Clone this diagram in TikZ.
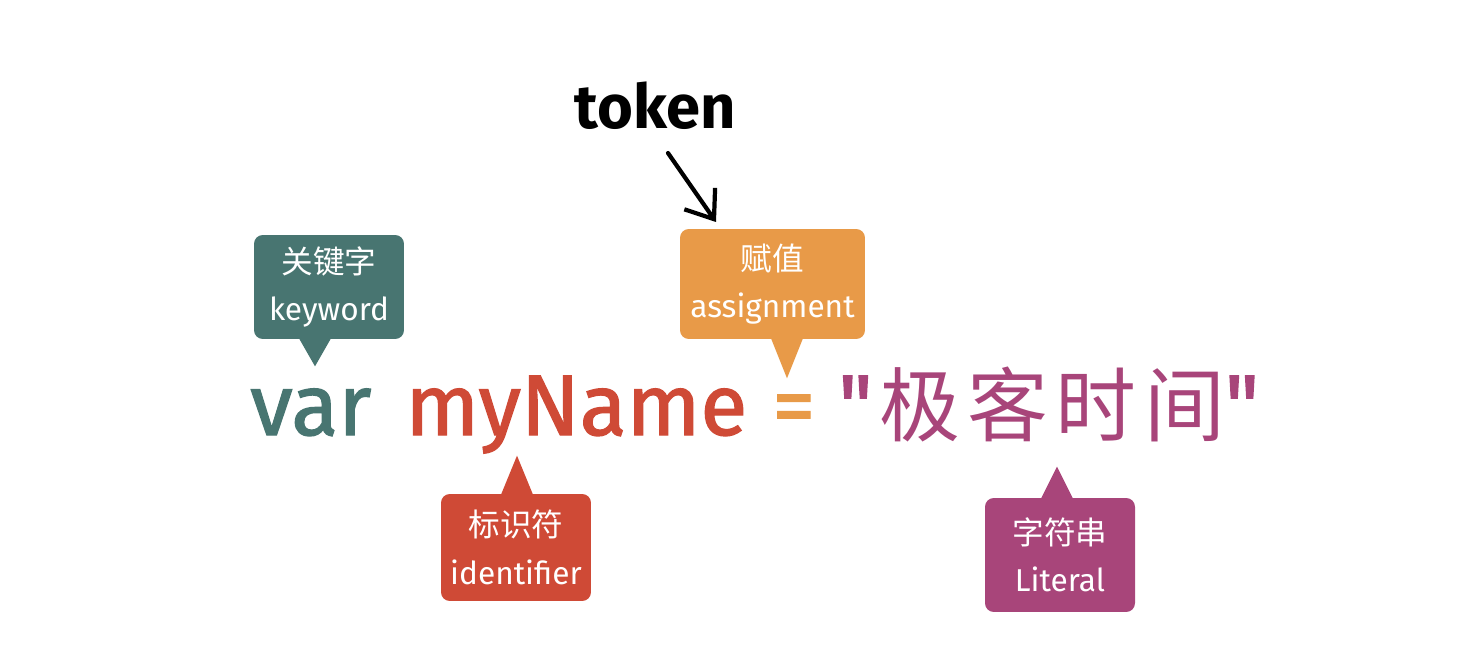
\documentclass[tikz,border=0pt]{standalone}
\usepackage{fontspec}
\setmainfont{Fira Sans}
\newfontfamily\codefont[FakeBold=1.5]{Fira Sans}
\newfontfamily\cjk{Noto Sans CJK SC}
\newfontfamily\cjkwide[LetterSpace=9]{Noto Sans CJK SC}
\usepackage{xcolor}
\usetikzlibrary{arrows.meta}

\definecolor{kwcolor}{HTML}{487571}
\definecolor{idcolor}{HTML}{CF4A36}
\definecolor{ascolor}{HTML}{E89A48}
\definecolor{litcolor}{HTML}{A8457A}

\begin{document}
\begin{tikzpicture}[x=0.02cm, y=-0.02cm,
		tag/.style={fill=#1, rounded corners=5pt, text=white, inner sep=0pt, align=center, font=\fontsize{18}{27}\selectfont},
		word/.style={text=#1, anchor=base west, inner sep=0pt, font=\codefont\fontsize{49}{55}\selectfont},
		tokarrow/.style={draw, line width=2.4pt, line cap=round, -{Straight Barb[length=0.5cm, width=0.75cm, line width=2.4pt]}}]
		\useasboundingbox (0,0) rectangle (1470,672);
		% the source line
		\node[word=kwcolor] (var) at (250,435) {var};
		\node[word=idcolor] (name) at (405,435) {myName};
		\node[word=ascolor] (eq) at (772,435) {=};
		\node[word=litcolor] (str) at (838,435) {\textquotedbl\hspace{4pt}{\cjkwide\fontsize{46}{50}\selectfont 极客时间}\textquotedbl};
		% the callouts
		\node[tag=kwcolor, minimum width=3cm, minimum height=2.08cm] (kw) at (329,287) {{\cjk 关键字}\\keyword};
		\fill[kwcolor] (kw.south) ++(-30,-1) -- ++(16,28) -- ++(16,-28) -- cycle;
		\node[tag=ascolor, minimum width=3.7cm, minimum height=2.2cm] (asg) at (772.5,284) {{\cjk 赋值}\\assignment};
		\fill[ascolor] (asg.south) ++(-1.5,-1) -- ++(16,40) -- ++(16,-40) -- cycle;
		\node[tag=idcolor, minimum width=3cm, minimum height=2.14cm] (idf) at (516,547.5) {{\cjk 标识符}\\identifier};
		\fill[idcolor] (idf.north) ++(-15,1) -- ++(16,-39) -- ++(16,39) -- cycle;
		\node[tag=litcolor, minimum width=3cm, minimum height=2.28cm] (lit) at (1060,555) {{\cjk 字符串}\\Literal};
		\fill[litcolor] (lit.north) ++(-19,1) -- ++(16,-32) -- ++(16,32) -- cycle;
		% token
		\node[font=\fontsize{35}{40}\selectfont\bfseries] (token) at (655,106) {token};
		\coordinate (tip) at (716,222);
		\draw[tokarrow] (token.south) ++(13,17) -- (tip);
	\end{tikzpicture}
\end{document}
